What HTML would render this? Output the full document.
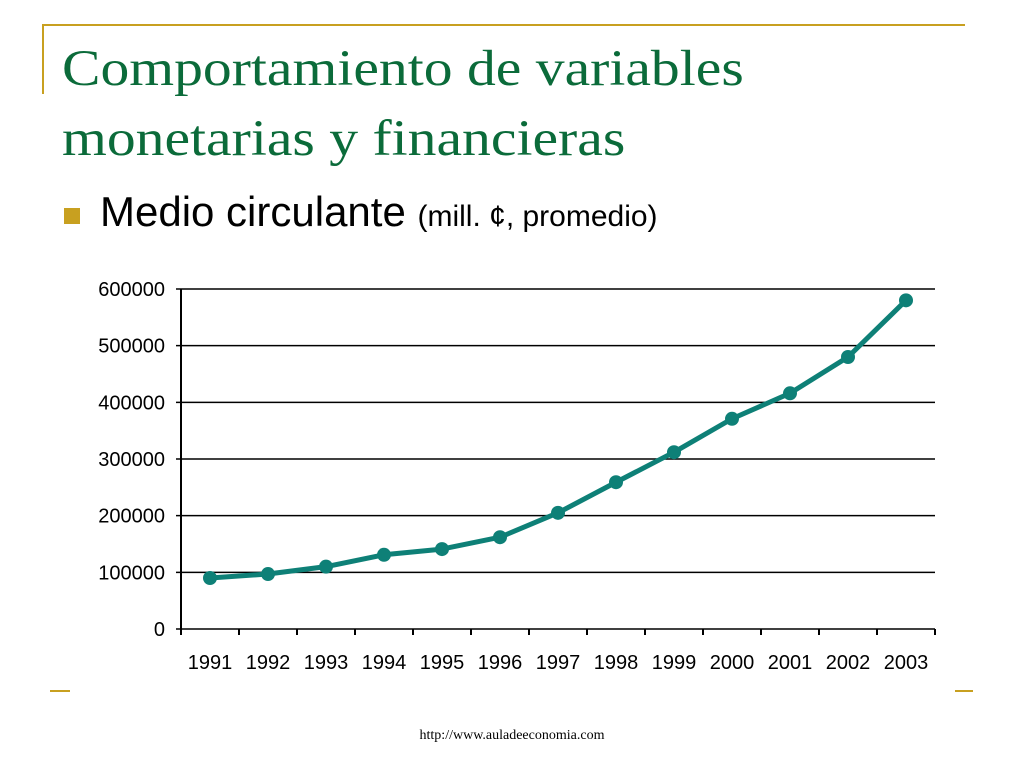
<!DOCTYPE html>
<html><head><meta charset="utf-8"><style>
body{margin:0;width:1024px;height:768px;background:#fff;position:relative;overflow:hidden;font-family:"Liberation Sans",sans-serif}
.t{position:absolute;left:62px;font-family:"Liberation Serif",serif;color:#0b6b3a;font-size:51px;white-space:nowrap;transform:scaleX(1.13);transform-origin:0 0}
</style></head><body>
<div style="position:absolute;left:42px;top:24px;width:923px;height:2px;background:#c8a020"></div>
<div style="position:absolute;left:42px;top:24px;width:2px;height:70px;background:#c8a020"></div>
<div style="position:absolute;left:50px;top:690px;width:20px;height:2px;background:#c8a020"></div>
<div style="position:absolute;left:955px;top:690px;width:18px;height:2px;background:#c8a020"></div>
<div class="t" style="top:40px">Comportamiento de variables</div>
<div class="t" style="top:110px">monetarias y financieras</div>
<div style="position:absolute;left:64px;top:208px;width:16px;height:16px;background:#c8a020"></div>
<div style="position:absolute;left:100px;top:188px;font-size:42px;white-space:nowrap">Medio circulante <span style="font-size:30px">(mill. ¢, promedio)</span></div>
<svg id="chart" width="1024" height="768" style="position:absolute;left:0;top:0"></svg>
<div style="position:absolute;left:0;width:1024px;top:728px;text-align:center;font-family:'Liberation Serif',serif;font-size:14px">http://www.auladeeconomia.com</div>
<script>
const categories=["1991","1992","1993","1994","1995","1996","1997","1998","1999","2000","2001","2002","2003"];
const values=[90000,97000,110000,131000,141000,162000,205000,259000,312000,371000,416000,480000,580000];
const yTicks=[0,100000,200000,300000,400000,500000,600000];
const svg=document.getElementById('chart');
const NS='http://www.w3.org/2000/svg';
const L=181,R=935,T=289,B=629,yMax=600000;
const bw=(R-L)/categories.length;
const x=i=>L+bw*(i+0.5);
const y=v=>B-(v/yMax)*(B-T);
function mk(t,a){const e=document.createElementNS(NS,t);for(const k in a)e.setAttribute(k,a[k]);svg.appendChild(e);return e;}
yTicks.forEach(v=>{
 const g=mk('line',{x1:L-5,x2:R,y1:y(v),y2:y(v),stroke:'#000','stroke-width':1.5});
 
 
 const t=mk('text',{x:L-16,y:y(v)+7,'text-anchor':'end','font-size':20,'font-family':'Liberation Sans, sans-serif'});
 t.textContent=v;
 
 
});
const ax=mk('line',{x1:L,x2:L,y1:T,y2:B+5,stroke:'#000','stroke-width':2});


for(let i=0;i<=categories.length;i++){
 const tk=mk('line',{x1:L+bw*i,x2:L+bw*i,y1:B,y2:B+6,stroke:'#000','stroke-width':2});
 
 
}
categories.forEach((c,i)=>{
 const t=mk('text',{x:x(i),y:669,'text-anchor':'middle','font-size':20,'font-family':'Liberation Sans, sans-serif'});
 t.textContent=c;
 
 
});
const pl=mk('polyline',{points:values.map((v,i)=>x(i)+','+y(v)).join(' '),fill:'none',stroke:'#0e8077','stroke-width':5,'stroke-linejoin':'round'});


values.forEach((v,i)=>{
 const c=mk('circle',{cx:x(i),cy:y(v),r:7,fill:'#0e8077'});
 
 
});
</script>
</body></html>
